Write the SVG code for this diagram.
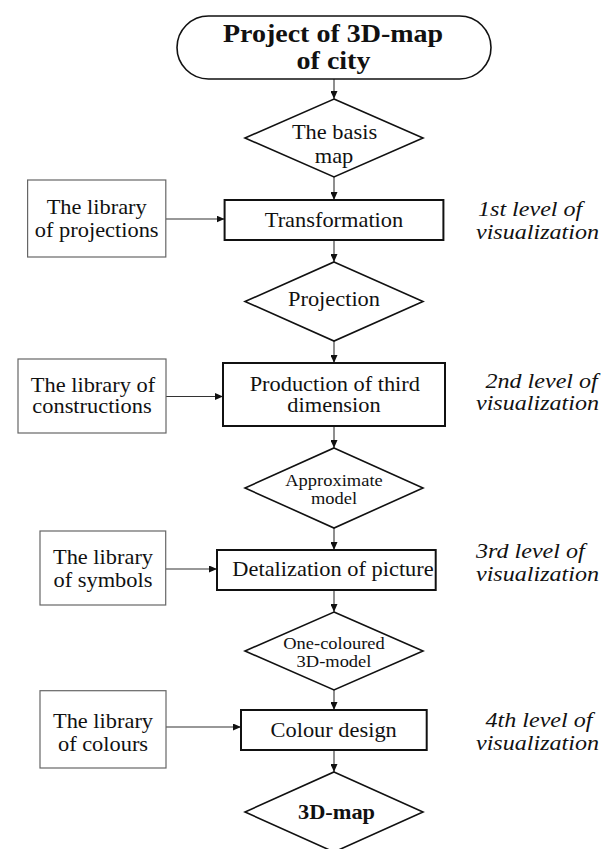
<svg xmlns="http://www.w3.org/2000/svg" width="602" height="849" viewBox="0 0 602 849">
<style>
.t{font-family:"Liberation Serif","Times New Roman",serif;font-size:20px;fill:#111;text-anchor:middle}
.b{font-weight:bold}
.s{font-size:16.5px}
.lv{font-family:"Liberation Serif","Times New Roman",serif;font-size:21.5px;font-style:italic;fill:#111}
.main{fill:#fff;stroke:#111;stroke-width:2}
.lib{fill:#fff;stroke:#666;stroke-width:1.2}
.dia{fill:#fff;stroke:#111;stroke-width:1.6}
.term{fill:#fff;stroke:#111;stroke-width:1.6}
.c{fill:none;stroke:#333;stroke-width:1.1}
</style>
<defs>
<marker id="ah" markerUnits="userSpaceOnUse" markerWidth="8" markerHeight="7" refX="8" refY="3.5" orient="auto">
<path d="M0,0 L8,3.5 L0,7 z" fill="#111"/>
</marker>
</defs>
<rect width="602" height="849" fill="#fff"/>

<g id="connectors">
<line class="c" x1="334" y1="79" x2="334" y2="99" marker-end="url(#ah)"/>
<line class="c" x1="334" y1="177" x2="334" y2="200" marker-end="url(#ah)"/>
<line class="c" x1="334" y1="240" x2="334" y2="262" marker-end="url(#ah)"/>
<line class="c" x1="334" y1="341" x2="334" y2="363" marker-end="url(#ah)"/>
<line class="c" x1="334" y1="426" x2="334" y2="448" marker-end="url(#ah)"/>
<line class="c" x1="334" y1="528" x2="334" y2="550" marker-end="url(#ah)"/>
<line class="c" x1="334" y1="590" x2="334" y2="612" marker-end="url(#ah)"/>
<line class="c" x1="334" y1="690" x2="334" y2="710" marker-end="url(#ah)"/>
<line class="c" x1="334" y1="750" x2="334" y2="772" marker-end="url(#ah)"/>
<line class="c" x1="166" y1="219" x2="224.5" y2="219" marker-end="url(#ah)"/>
<line class="c" x1="166" y1="396.5" x2="223" y2="396.5" marker-end="url(#ah)"/>
<line class="c" x1="166" y1="569" x2="217" y2="569" marker-end="url(#ah)"/>
<line class="c" x1="166" y1="727" x2="241" y2="727" marker-end="url(#ah)"/>
</g>

<g id="start">
<rect class="term" x="177" y="16" width="314" height="63" rx="31.5"/>
<text class="t b" transform="matrix(1.12,0,0,1,333,41.7)" style="font-size:25px">Project of 3D-map</text>
<text class="t b" transform="matrix(1.12,0,0,1,333.5,69)" style="font-size:25px">of city</text>
</g>

<g id="basis-map">
<polygon class="dia" points="334,99 423,138 334,177 245,138"/>
<text class="t" transform="matrix(1.12,0,0,1,334.5,139.3)">The basis</text>
<text class="t" transform="matrix(1.12,0,0,1,334,162.7)">map</text>
</g>

<g id="lib-projections">
<rect class="lib" x="27.6" y="180" width="138.2" height="77"/>
<text class="t" transform="matrix(1.12,0,0,1,96.7,214)">The library</text>
<text class="t" transform="matrix(1.12,0,0,1,96.7,237)">of projections</text>
</g>

<g id="transformation">
<rect class="main" x="224.6" y="200" width="218.8" height="40"/>
<text class="t" transform="matrix(1.12,0,0,1,334,226.5)">Transformation</text>
</g>

<g id="level1">
<text class="lv" transform="matrix(1.12,0,0,1,478,216)">1st level of</text>
<text class="lv" transform="matrix(1.12,0,0,1,476,238.5)">visualization</text>
</g>

<g id="projection">
<polygon class="dia" points="334,262 423,301.5 334,341 245,301.5"/>
<text class="t" transform="matrix(1.12,0,0,1,334,306)">Projection</text>
</g>

<g id="lib-constructions">
<rect class="lib" x="18" y="359" width="148" height="74"/>
<text class="t" transform="matrix(1.12,0,0,1,93,391.5)">The library of</text>
<text class="t" transform="matrix(1.12,0,0,1,92,413)">constructions</text>
</g>

<g id="production">
<rect class="main" x="223" y="363" width="222" height="63"/>
<text class="t" transform="matrix(1.12,0,0,1,334.8,390.7)">Production of third</text>
<text class="t" transform="matrix(1.12,0,0,1,334,411.7)">dimension</text>
</g>

<g id="level2">
<text class="lv" transform="matrix(1.12,0,0,1,485.5,388)">2nd level of</text>
<text class="lv" transform="matrix(1.12,0,0,1,476,410)">visualization</text>
</g>

<g id="approximate-model">
<polygon class="dia" points="334,448 423,488 334,528 245,488"/>
<text class="t s" transform="matrix(1.12,0,0,1,334,485.7)">Approximate</text>
<text class="t s" transform="matrix(1.12,0,0,1,334,504.3)">model</text>
</g>

<g id="lib-symbols">
<rect class="lib" x="40" y="531" width="125.7" height="74"/>
<text class="t" transform="matrix(1.12,0,0,1,103,564)">The library</text>
<text class="t" transform="matrix(1.12,0,0,1,103,587)">of symbols</text>
</g>

<g id="detalization">
<rect class="main" x="217" y="550" width="218.7" height="40"/>
<text class="t" transform="matrix(1.12,0,0,1,333,576)">Detalization of picture</text>
</g>

<g id="level3">
<text class="lv" transform="matrix(1.12,0,0,1,476,558)">3rd level of</text>
<text class="lv" transform="matrix(1.12,0,0,1,476,580.5)">visualization</text>
</g>

<g id="one-coloured">
<polygon class="dia" points="334,612 423,651 334,690 245,651"/>
<text class="t s" transform="matrix(1.12,0,0,1,334,649.3)">One-coloured</text>
<text class="t s" transform="matrix(1.12,0,0,1,334,667.3)">3D-model</text>
</g>

<g id="lib-colours">
<rect class="lib" x="40" y="690.7" width="126" height="77.3"/>
<text class="t" transform="matrix(1.12,0,0,1,103,728)">The library</text>
<text class="t" transform="matrix(1.12,0,0,1,103,751)">of colours</text>
</g>

<g id="colour-design">
<rect class="main" x="241" y="710" width="185.7" height="40"/>
<text class="t" transform="matrix(1.12,0,0,1,333.7,736.7)">Colour design</text>
</g>

<g id="level4">
<text class="lv" transform="matrix(1.12,0,0,1,485.5,727)">4th level of</text>
<text class="lv" transform="matrix(1.12,0,0,1,476,749.5)">visualization</text>
</g>

<g id="end">
<polygon class="dia" points="334,772 423,812 334,852 245,812"/>
<text class="t b" transform="matrix(1.12,0,0,1,336.5,819)">3D-map</text>
</g>
</svg>
